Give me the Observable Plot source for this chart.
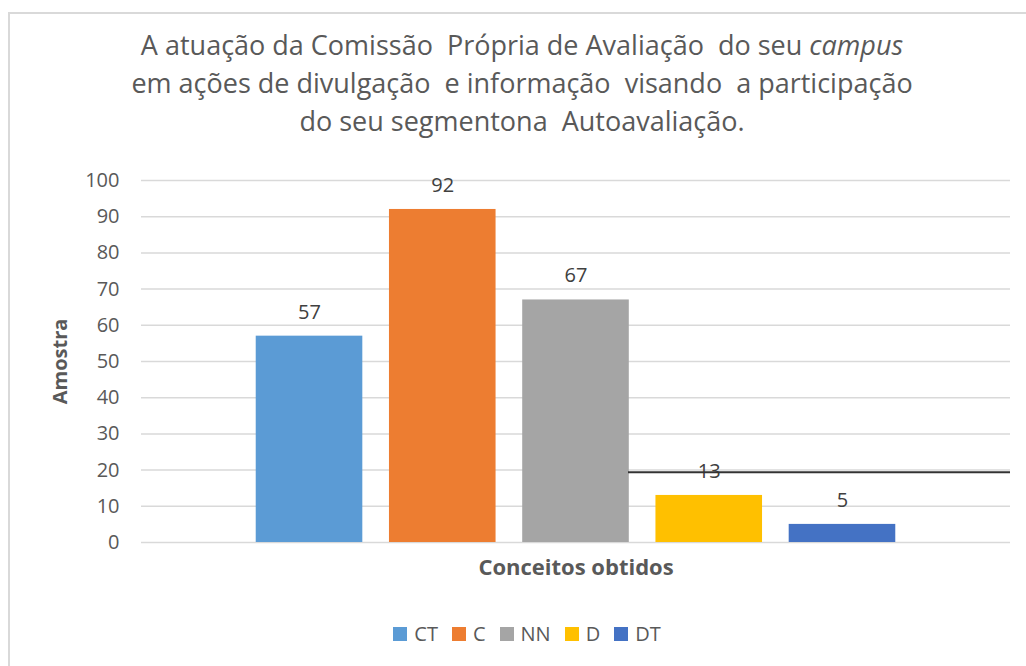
<!DOCTYPE html>
<html><head><meta charset="utf-8">
<script src="https://cdn.jsdelivr.net/npm/d3@7"></script>
<script src="https://cdn.jsdelivr.net/npm/@observablehq/plot@0.6"></script>
<style>
body{margin:0;background:#fff;width:1026px;height:666px;overflow:hidden;position:relative;font-family:"Open Sans",sans-serif;}
#frame{position:absolute;left:8px;top:12px;width:1100px;height:700px;border:2px solid #d9d9d9;box-sizing:border-box;}
#title{position:absolute;left:0;width:1044px;top:26px;text-align:center;font-size:27px;line-height:38px;color:#595959;font-weight:400;}
#chart{position:absolute;left:0;top:150px;}
#legend{position:absolute;top:620px;left:0;width:1054px;display:flex;justify-content:center;gap:14px;font-size:20px;color:#595959;line-height:28px;}
#legend .item{display:flex;align-items:center;gap:7px;}
#legend .sw{width:14px;height:14px;display:inline-block;}
</style>
</head><body>
<div id="frame"></div>
<div id="title"></div>
<div id="chart"></div>
<div id="legend"></div>
<script>
const titleLines = ["A atuação da Comissão  Própria de Avaliação  do seu <i>campus</i>", "em ações de divulgação  e informação  visando  a participação", "do seu segmentona  Autoavaliação."];
const categories = ["CT", "C", "NN", "D", "DT"];
const values = [57, 92, 67, 13, 5];
const colors = ["#5b9bd5", "#ed7d31", "#a5a5a5", "#ffc000", "#4472c4"];
const yTicks = [0, 10, 20, 30, 40, 50, 60, 70, 80, 90, 100];
const yLabel = "Amostra";
const xLabel = "Conceitos obtidos";
const strayLine = [19.4];

document.getElementById("title").innerHTML = titleLines.map(l => `<div style="white-space:pre">${l}</div>`).join("");

const data = categories.map((c, i) => ({cat: c, value: values[i]}));

const chart = Plot.plot({
  width: 1026, height: 440,
  marginLeft: 141, marginRight: 16, marginTop: 30, marginBottom: 48,
  style: {fontFamily: "Open Sans, sans-serif", background: "transparent"},
  x: {domain: categories, paddingInner: 0.2, paddingOuter: 0.861, round: false, axis: null},
  y: {domain: [0, 100]},
  color: {domain: categories, range: colors},
  marks: [
    Plot.gridY(yTicks, {stroke: "#d9d9d9", strokeOpacity: 1, strokeWidth: 1.5}),
    Plot.axisY(yTicks, {tickSize: 0, tickPadding: 22, fontSize: 20, fill: "#595959", label: null}),
    Plot.barY(data, {x: "cat", y: "value", fill: "cat"}),
    Plot.text(data, {x: "cat", y: "value", text: d => String(d.value), dy: -24, fontSize: 20, fill: "#404040"}),
    Plot.ruleY(strayLine, {stroke: "#333", strokeWidth: 2, insetLeft: 487}),
    Plot.text([yLabel], {frameAnchor: "left", textAnchor: "middle", lineAnchor: "middle", dx: -81, rotate: -90, fontWeight: "bold", fontSize: 20, fill: "#595959"}),
    Plot.text([xLabel], {frameAnchor: "bottom", textAnchor: "middle", lineAnchor: "middle", dy: 25, fontWeight: "bold", fontSize: 22, fill: "#595959"})
  ]
});
document.getElementById("chart").appendChild(chart);

document.getElementById("legend").innerHTML = categories.map((c, i) =>
  `<span class="item"><span class="sw" style="background:${colors[i]}"></span><span>${c}</span></span>`).join("");
</script>
</body></html>
